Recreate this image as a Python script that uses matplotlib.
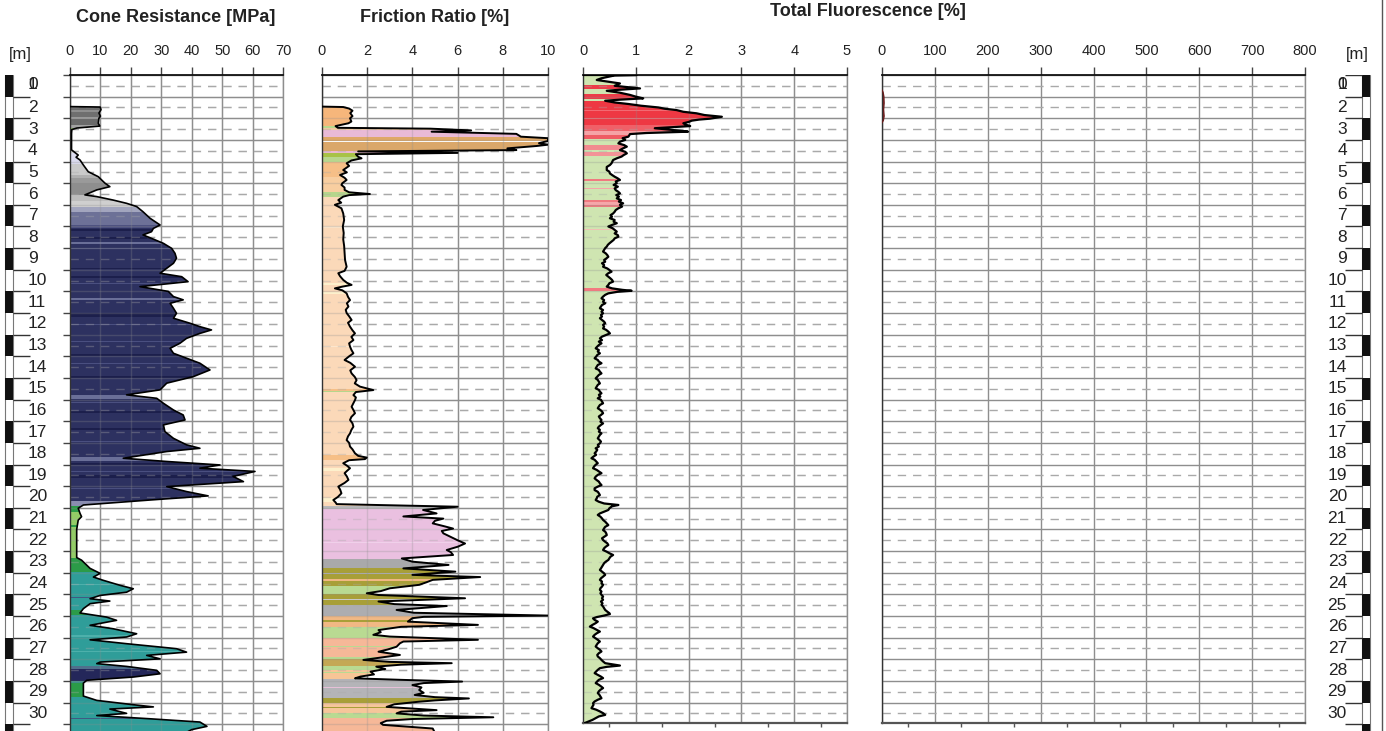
import numpy as np
import matplotlib
matplotlib.use("Agg")
import matplotlib.pyplot as plt
from matplotlib.patches import Polygon, Rectangle
from matplotlib.lines import Line2D
from matplotlib.ticker import MultipleLocator

plt.rcParams['font.family'] = ['Liberation Sans', 'DejaVu Sans']

# ---------------------------------------------------------------- data
# (depth [m], cone resistance qc [MPa])
cone_profile = [
    (1.46, 0.0), (1.48, 9.9), (1.60, 10.2), (1.76, 9.5), (1.90, 10.0), (2.00, 9.5),
    (2.23, 9.3), (2.36, 9.8), (2.45, 2.3), (2.52, 0.6), (2.70, 0.5), (3.00, 0.5),
    (3.46, 0.5), (3.70, 2.7), (3.80, 2.0), (3.93, 3.3), (4.16, 4.4), (4.47, 6.0),
    (4.70, 9.3), (5.00, 11.5), (5.16, 13.1), (5.31, 8.8), (5.54, 4.9), (5.62, 8.8),
    (5.78, 14.2), (5.93, 18.6), (6.08, 21.9), (6.32, 24.0), (6.62, 26.3), (6.93, 29.6),
    (7.09, 27.4), (7.24, 26.8), (7.39, 24.0), (7.55, 26.8), (7.78, 30.7), (8.01, 33.4),
    (8.24, 34.5), (8.47, 35.0), (8.70, 34.0), (8.93, 31.8), (9.16, 29.6), (9.32, 36.7),
    (9.55, 38.8), (9.78, 23.0), (10.00, 32.3), (10.24, 34.0), (10.39, 37.2), (10.55, 32.9),
    (10.78, 34.0), (11.01, 35.0), (11.24, 34.0), (11.47, 39.4), (11.63, 42.7), (11.78, 46.5),
    (11.94, 42.7), (12.17, 38.3), (12.40, 36.1), (12.63, 32.9), (12.86, 34.0), (13.09, 38.3),
    (13.32, 42.7), (13.63, 46.0), (13.94, 40.5), (14.24, 31.8), (14.55, 29.6), (14.78, 18.6),
    (14.94, 28.5), (15.17, 30.7), (15.48, 34.0), (15.71, 37.2), (15.94, 37.8), (16.17, 30.7),
    (16.48, 31.2), (16.79, 34.0), (17.09, 38.3), (17.25, 42.7), (17.40, 31.8), (17.71, 17.5),
    (17.86, 31.8), (18.02, 49.3), (18.17, 42.7), (18.32, 60.8), (18.55, 53.6), (18.79, 57.0),
    (19.02, 31.8), (19.25, 38.3), (19.45, 45.4), (19.64, 26.3), (19.87, 4.4), (20.02, 2.7),
    (20.26, 3.3), (20.41, 3.8), (20.57, 2.7), (21.00, 2.2), (21.60, 2.2), (22.30, 2.2),
    (22.42, 3.8), (22.80, 6.6), (23.03, 9.9), (23.20, 7.7), (23.35, 10.9), (23.58, 16.4),
    (23.74, 20.8), (23.90, 18.6), (24.05, 9.9), (24.20, 6.6), (24.31, 13.1), (24.43, 6.6),
    (24.66, 4.4), (24.86, 3.3), (25.05, 12.0), (25.20, 15.3), (25.43, 6.6), (25.59, 14.2),
    (25.82, 21.9), (25.97, 18.6), (26.10, 6.6), (26.28, 18.6), (26.51, 35.0), (26.67, 38.3),
    (26.82, 25.2), (26.98, 29.6), (27.13, 9.9), (27.20, 8.8), (27.33, 18.6), (27.51, 28.5),
    (27.67, 29.6), (27.82, 20.8), (27.97, 5.5), (28.10, 4.4), (28.70, 4.4), (28.90, 8.8),
    (29.10, 20.8), (29.20, 27.4), (29.30, 13.1), (29.50, 18.6), (29.60, 8.8), (29.75, 26.3),
    (29.90, 42.7), (30.10, 45.0), (30.25, 40.0), (30.40, 38.0),
]

# (depth [m], friction ratio Rf [%])
friction_profile = [
    (1.46, 0.0), (1.48, 0.94), (1.55, 1.20), (1.65, 1.35), (1.76, 1.25), (1.90, 1.35),
    (2.00, 1.24), (2.15, 1.30), (2.23, 1.17), (2.36, 0.60), (2.44, 0.70), (2.48, 4.80),
    (2.56, 6.60), (2.62, 4.85), (2.72, 8.60), (2.85, 8.80), (2.92, 10.0), (3.05, 10.0),
    (3.15, 9.60), (3.22, 10.0), (3.28, 9.50), (3.39, 8.20), (3.47, 8.60), (3.53, 1.60),
    (3.60, 6.00), (3.66, 1.50), (3.78, 1.60), (3.85, 1.75), (3.95, 1.30), (4.08, 1.09),
    (4.20, 1.20), (4.39, 0.94), (4.50, 1.10), (4.62, 0.80), (4.75, 1.00), (4.85, 1.09),
    (5.00, 0.90), (5.08, 0.86), (5.20, 1.00), (5.31, 1.00), (5.42, 1.20), (5.50, 2.12),
    (5.55, 1.20), (5.62, 0.94), (5.78, 0.72), (5.90, 0.85), (6.00, 0.57), (6.16, 0.86),
    (6.40, 0.94), (6.70, 0.98), (7.00, 0.92), (7.30, 0.96), (7.60, 0.94), (7.90, 0.98),
    (8.24, 1.00), (8.55, 1.02), (8.86, 1.09), (9.05, 1.00), (9.16, 0.72), (9.30, 0.80),
    (9.47, 0.94), (9.60, 1.10), (9.70, 1.31), (9.78, 0.90), (9.86, 0.57), (9.95, 0.90),
    (10.09, 1.09), (10.25, 1.15), (10.40, 1.24), (10.55, 1.10), (10.70, 1.17), (10.85, 1.05),
    (11.00, 1.09), (11.15, 1.20), (11.32, 1.31), (11.45, 1.15), (11.63, 1.24), (11.80, 1.35),
    (11.94, 1.46), (12.10, 1.30), (12.25, 1.39), (12.40, 1.20), (12.55, 1.24), (12.70, 1.30),
    (12.86, 1.39), (13.00, 1.20), (13.17, 1.00), (13.30, 1.25), (13.48, 1.46), (13.65, 1.25),
    (13.79, 1.31), (13.95, 1.45), (14.10, 1.53), (14.25, 1.45), (14.40, 1.68), (14.56, 2.27),
    (14.65, 1.50), (14.79, 1.39), (14.90, 1.50), (15.02, 1.46), (15.18, 1.38), (15.33, 1.31),
    (15.50, 1.40), (15.63, 1.46), (15.80, 1.30), (15.94, 1.24), (16.10, 1.35), (16.25, 1.39),
    (16.40, 1.30), (16.56, 1.24), (16.70, 1.15), (16.87, 1.09), (17.00, 1.20), (17.17, 1.24),
    (17.30, 1.35), (17.48, 1.46), (17.60, 1.60), (17.68, 1.98), (17.75, 1.90), (17.80, 1.20),
    (17.94, 0.94), (18.05, 1.10), (18.17, 1.24), (18.30, 1.10), (18.40, 1.00), (18.55, 1.10),
    (18.71, 1.17), (18.85, 1.00), (19.02, 0.72), (19.15, 0.80), (19.33, 0.86), (19.50, 0.70),
    (19.64, 0.50), (19.75, 0.60), (19.83, 0.65), (19.95, 6.00), (20.10, 4.47), (20.26, 5.07),
    (20.40, 3.60), (20.50, 5.37), (20.60, 5.00), (20.72, 4.90), (20.85, 5.40), (20.96, 5.80),
    (21.07, 5.30), (21.18, 5.37), (21.35, 5.70), (21.50, 6.00), (21.65, 6.33), (21.80, 6.00),
    (21.95, 5.52), (22.05, 5.70), (22.18, 5.80), (22.34, 3.53), (22.49, 4.00), (22.64, 5.60),
    (22.80, 3.60), (22.95, 5.90), (23.10, 4.00), (23.20, 7.00), (23.33, 4.90), (23.45, 4.60),
    (23.56, 4.30), (23.72, 3.00), (23.85, 2.60), (23.95, 1.98), (24.03, 2.50), (24.18, 6.33),
    (24.33, 2.50), (24.45, 3.20), (24.54, 5.52), (24.65, 4.20), (24.72, 3.30), (24.85, 4.06),
    (24.98, 10.0), (25.04, 4.50), (25.10, 4.00), (25.26, 3.80), (25.41, 6.90), (25.50, 3.50),
    (25.65, 2.50), (25.75, 2.60), (25.87, 2.27), (25.95, 3.00), (26.10, 6.90), (26.18, 3.60),
    (26.26, 3.45), (26.42, 3.30), (26.55, 2.90), (26.65, 2.50), (26.80, 3.45), (26.92, 2.60),
    (27.03, 1.83), (27.12, 3.00), (27.18, 5.74), (27.25, 3.50), (27.34, 2.40), (27.45, 2.80),
    (27.57, 2.15), (27.70, 2.30), (27.80, 1.70), (27.88, 1.46), (27.95, 3.50), (28.03, 6.20),
    (28.10, 4.50), (28.19, 4.00), (28.30, 4.40), (28.42, 4.30), (28.55, 4.50), (28.65, 4.10),
    (28.75, 5.00), (28.81, 6.50), (28.90, 5.00), (28.96, 4.30), (29.08, 3.20), (29.20, 2.86),
    (29.35, 5.07), (29.42, 3.50), (29.50, 3.30), (29.60, 4.50), (29.68, 7.58), (29.76, 4.00),
    (29.84, 2.86), (29.95, 2.60), (30.03, 2.70), (30.20, 4.90), (30.40, 5.00),
]

# (depth [m], total fluorescence [%])
fluor_profile = [
    (0.00, 1.02), (0.02, 0.60), (0.08, 0.48), (0.15, 0.35), (0.23, 0.26), (0.30, 0.45),
    (0.39, 0.70), (0.50, 0.60), (0.62, 1.08), (0.68, 0.70), (0.73, 0.45), (0.82, 0.70),
    (0.92, 0.89), (1.00, 1.00), (1.08, 1.14), (1.14, 0.70), (1.19, 0.42), (1.27, 0.60),
    (1.34, 0.86), (1.42, 1.10), (1.50, 1.43), (1.56, 1.55), (1.62, 1.77), (1.70, 1.90),
    (1.77, 2.15), (1.85, 2.30), (1.93, 2.63), (1.98, 2.50), (2.02, 2.40), (2.06, 2.20),
    (2.11, 2.06), (2.17, 2.00), (2.23, 1.90), (2.30, 1.95), (2.36, 2.03), (2.41, 1.70),
    (2.46, 1.36), (2.54, 1.70), (2.62, 1.99), (2.68, 1.20), (2.73, 0.89), (2.85, 0.86),
    (2.92, 0.75), (3.00, 0.80), (3.08, 0.70), (3.16, 0.67), (3.24, 0.78), (3.31, 0.83),
    (3.40, 0.75), (3.47, 0.70), (3.55, 0.80), (3.62, 0.83), (3.70, 0.77), (3.77, 0.73),
    (3.85, 0.64), (3.93, 0.57), (4.08, 0.54), (4.16, 0.51), (4.25, 0.45), (4.39, 0.45),
    (4.47, 0.50), (4.55, 0.51), (4.62, 0.55), (4.70, 0.60), (4.78, 0.66), (4.85, 0.70),
    (4.92, 0.62), (5.00, 0.64), (5.08, 0.58), (5.16, 0.66), (5.24, 0.60), (5.32, 0.62),
    (5.40, 0.67), (5.47, 0.70), (5.55, 0.63), (5.62, 0.68), (5.70, 0.64), (5.78, 0.72),
    (5.85, 0.68), (5.93, 0.76), (6.00, 0.70), (6.08, 0.74), (6.16, 0.67), (6.24, 0.62),
    (6.32, 0.60), (6.40, 0.57), (6.48, 0.52), (6.55, 0.55), (6.62, 0.51), (6.70, 0.60),
    (6.78, 0.58), (6.85, 0.64), (6.93, 0.55), (7.00, 0.48), (7.08, 0.56), (7.16, 0.60),
    (7.24, 0.64), (7.32, 0.60), (7.40, 0.66), (7.47, 0.67), (7.55, 0.60), (7.62, 0.58),
    (7.70, 0.54), (7.78, 0.50), (7.85, 0.47), (7.93, 0.45), (8.00, 0.42), (8.08, 0.40),
    (8.16, 0.38), (8.24, 0.43), (8.32, 0.46), (8.40, 0.48), (8.48, 0.44), (8.55, 0.40),
    (8.63, 0.42), (8.70, 0.36), (8.78, 0.40), (8.86, 0.38), (8.94, 0.46), (9.01, 0.50),
    (9.09, 0.54), (9.16, 0.48), (9.24, 0.44), (9.32, 0.48), (9.40, 0.52), (9.47, 0.55),
    (9.55, 0.57), (9.62, 0.50), (9.70, 0.48), (9.78, 0.45), (9.86, 0.55), (9.93, 0.75),
    (9.97, 0.92), (10.02, 0.65), (10.09, 0.48), (10.16, 0.42), (10.24, 0.38), (10.32, 0.35),
    (10.40, 0.40), (10.48, 0.38), (10.55, 0.42), (10.63, 0.36), (10.70, 0.34), (10.78, 0.32),
    (10.86, 0.38), (10.94, 0.35), (11.01, 0.38), (11.09, 0.34), (11.16, 0.36), (11.24, 0.32),
    (11.32, 0.36), (11.40, 0.40), (11.47, 0.42), (11.55, 0.38), (11.63, 0.40), (11.71, 0.38),
    (11.78, 0.44), (11.86, 0.48), (11.94, 0.51), (12.01, 0.44), (12.09, 0.36), (12.17, 0.32),
    (12.25, 0.36), (12.32, 0.30), (12.40, 0.35), (12.48, 0.30), (12.55, 0.27), (12.63, 0.24),
    (12.71, 0.30), (12.78, 0.28), (12.86, 0.32), (12.94, 0.27), (13.01, 0.25), (13.09, 0.22),
    (13.17, 0.28), (13.24, 0.30), (13.32, 0.35), (13.40, 0.28), (13.48, 0.26), (13.56, 0.24),
    (13.63, 0.30), (13.71, 0.32), (13.79, 0.35), (13.86, 0.30), (13.94, 0.27), (14.02, 0.24),
    (14.09, 0.28), (14.17, 0.30), (14.25, 0.32), (14.32, 0.28), (14.40, 0.26), (14.48, 0.24),
    (14.55, 0.30), (14.63, 0.32), (14.71, 0.35), (14.78, 0.30), (14.86, 0.33), (14.94, 0.28),
    (15.01, 0.34), (15.09, 0.36), (15.17, 0.38), (15.25, 0.32), (15.32, 0.30), (15.40, 0.28),
    (15.48, 0.33), (15.55, 0.36), (15.63, 0.38), (15.71, 0.34), (15.78, 0.30), (15.86, 0.32),
    (15.94, 0.35), (16.02, 0.33), (16.10, 0.38), (16.17, 0.34), (16.25, 0.30), (16.32, 0.28),
    (16.40, 0.32), (16.48, 0.30), (16.56, 0.35), (16.63, 0.32), (16.71, 0.30), (16.79, 0.28),
    (16.86, 0.31), (16.94, 0.34), (17.02, 0.32), (17.09, 0.28), (17.17, 0.30), (17.25, 0.24),
    (17.32, 0.27), (17.40, 0.25), (17.48, 0.22), (17.55, 0.25), (17.63, 0.20), (17.71, 0.16),
    (17.78, 0.22), (17.86, 0.25), (17.94, 0.28), (18.01, 0.24), (18.09, 0.21), (18.17, 0.19),
    (18.25, 0.26), (18.32, 0.30), (18.40, 0.35), (18.48, 0.28), (18.56, 0.24), (18.64, 0.22),
    (18.72, 0.26), (18.79, 0.30), (18.87, 0.32), (18.95, 0.35), (19.02, 0.28), (19.10, 0.22),
    (19.18, 0.22), (19.26, 0.28), (19.33, 0.30), (19.41, 0.32), (19.49, 0.27), (19.56, 0.26),
    (19.64, 0.24), (19.72, 0.30), (19.80, 0.40), (19.87, 0.67), (19.93, 0.55), (20.02, 0.50),
    (20.10, 0.48), (20.18, 0.40), (20.26, 0.32), (20.33, 0.28), (20.41, 0.33), (20.49, 0.36),
    (20.56, 0.38), (20.64, 0.42), (20.72, 0.45), (20.80, 0.48), (20.88, 0.42), (20.95, 0.40),
    (21.03, 0.38), (21.10, 0.42), (21.18, 0.44), (21.26, 0.45), (21.34, 0.40), (21.41, 0.36),
    (21.49, 0.38), (21.57, 0.42), (21.64, 0.46), (21.72, 0.48), (21.80, 0.43), (21.87, 0.40),
    (21.95, 0.38), (22.03, 0.45), (22.10, 0.50), (22.18, 0.57), (22.26, 0.52), (22.33, 0.50),
    (22.41, 0.48), (22.49, 0.43), (22.56, 0.40), (22.64, 0.38), (22.72, 0.36), (22.80, 0.34),
    (22.87, 0.32), (22.95, 0.36), (23.03, 0.40), (23.10, 0.42), (23.18, 0.38), (23.26, 0.34),
    (23.33, 0.32), (23.41, 0.36), (23.49, 0.35), (23.56, 0.38), (23.64, 0.36), (23.72, 0.33),
    (23.79, 0.32), (23.87, 0.35), (23.95, 0.33), (24.02, 0.35), (24.10, 0.38), (24.18, 0.36),
    (24.25, 0.38), (24.33, 0.34), (24.41, 0.37), (24.48, 0.35), (24.56, 0.38), (24.64, 0.40),
    (24.72, 0.42), (24.80, 0.46), (24.87, 0.50), (24.91, 0.51), (24.98, 0.40), (25.05, 0.26),
    (25.11, 0.19), (25.18, 0.22), (25.26, 0.28), (25.33, 0.24), (25.41, 0.18), (25.49, 0.13),
    (25.56, 0.20), (25.64, 0.26), (25.72, 0.32), (25.80, 0.26), (25.87, 0.22), (25.95, 0.19),
    (26.03, 0.24), (26.10, 0.28), (26.18, 0.32), (26.26, 0.28), (26.33, 0.26), (26.41, 0.24),
    (26.49, 0.28), (26.56, 0.32), (26.64, 0.35), (26.72, 0.30), (26.80, 0.27), (26.87, 0.28),
    (26.95, 0.32), (27.03, 0.35), (27.10, 0.38), (27.18, 0.42), (27.25, 0.60), (27.29, 0.70),
    (27.35, 0.45), (27.41, 0.32), (27.49, 0.28), (27.56, 0.25), (27.64, 0.22), (27.72, 0.28),
    (27.80, 0.34), (27.87, 0.38), (27.95, 0.30), (28.02, 0.27), (28.10, 0.24), (28.18, 0.30),
    (28.25, 0.34), (28.33, 0.38), (28.41, 0.33), (28.48, 0.30), (28.56, 0.28), (28.64, 0.31),
    (28.72, 0.33), (28.80, 0.35), (28.87, 0.28), (28.95, 0.22), (29.03, 0.19), (29.10, 0.20),
    (29.18, 0.18), (29.26, 0.16), (29.33, 0.25), (29.41, 0.32), (29.49, 0.38), (29.57, 0.42),
    (29.64, 0.30), (29.72, 0.24), (29.80, 0.18), (29.88, 0.10), (29.94, 0.04),
]

# (depth [m], fluorescence on the 0-800 scale)
fluor_wide_profile = [
    (0.70, 0.0), (0.80, 2.0), (1.00, 3.5), (1.30, 4.0), (1.60, 3.0), (1.90, 4.0),
    (2.10, 2.5), (2.20, 0.0),
]

# soil behaviour colour bands (top, bottom, colour)
cone_layers = [
    (1.40, 1.60, '#6c6c6c'), (1.60, 1.72, '#8e8e8e'), (1.72, 1.95, '#6f6f6f'),
    (1.95, 2.05, '#9a9a9a'), (2.05, 2.30, '#6a6a6a'), (2.30, 2.45, '#a2a2a2'),
    (2.45, 2.58, '#9fd36a'), (2.58, 3.60, '#d5d5d5'), (3.60, 4.10, '#dcdcef'),
    (4.10, 4.60, '#cacaca'), (4.60, 4.75, '#b0b0b0'), (4.75, 5.00, '#9a9a9a'),
    (5.00, 5.55, '#8e8e8e'), (5.55, 5.80, '#bdbdbd'), (5.80, 6.12, '#cfcfcf'),
    (6.12, 6.35, '#a2a5be'), (6.35, 6.95, '#6d7197'), (6.95, 7.05, '#4b4f80'),
    (7.05, 19.70, '#2d3160'), (19.70, 19.92, '#8a8db0'), (19.92, 20.20, '#2b9b48'),
    (20.20, 20.80, '#93cc67'), (20.80, 20.90, '#2b9b48'), (20.90, 22.30, '#93cc67'),
    (22.30, 22.95, '#2b9b48'), (22.95, 27.30, '#2f9d99'), (27.30, 27.45, '#4f6f8c'),
    (27.45, 28.00, '#24275a'), (28.00, 28.10, '#3a8f88'), (28.10, 28.75, '#2b9b48'),
    (28.75, 30.40, '#2f9d99'),
]
cone_stripes = [
    (7.12, 7.20, '#1c1f4c'), (7.50, 7.58, '#1c1f4c'), (7.72, 7.80, '#6a6f98'),
    (8.00, 8.04, '#4a4f80'), (8.90, 8.98, '#1c1f4c'), (9.30, 9.36, '#1c1f4c'),
    (9.60, 9.64, '#4a4f80'), (10.30, 10.38, '#6a6f98'), (11.02, 11.18, '#1c1f4c'),
    (11.50, 11.54, '#4a4f80'), (12.30, 12.34, '#4a4f80'), (12.90, 13.00, '#1c1f4c'),
    (13.30, 13.34, '#4a4f80'), (13.90, 13.98, '#1c1f4c'), (14.78, 14.95, '#6a6f98'),
    (15.10, 15.14, '#4a4f80'), (15.52, 15.60, '#1c1f4c'), (16.30, 16.42, '#1c1f4c'),
    (16.90, 16.94, '#4a4f80'), (17.66, 17.84, '#6a6f98'), (17.95, 18.02, '#1c1f4c'),
    (18.30, 18.34, '#4a4f80'), (18.50, 18.60, '#1c1f4c'), (19.10, 19.14, '#4a4f80'),
    (23.50, 23.55, '#4db0ab'), (24.10, 24.18, '#3f5a82'), (24.70, 24.95, '#2b9b48'),
    (25.90, 25.95, '#4db0ab'), (26.60, 26.65, '#4db0ab'), (29.70, 29.75, '#3f5a82'),
]

friction_layers = [
    (1.40, 2.35, '#f6b67b'), (2.35, 2.45, '#b9d98c'), (2.45, 2.55, '#f2c9a3'),
    (2.55, 2.86, '#e9bad6'), (2.86, 2.95, '#dfa867'), (2.95, 2.98, '#ffffff'),
    (2.98, 3.05, '#dfa867'), (3.05, 3.08, '#ffffff'), (3.08, 3.50, '#daa76a'),
    (3.50, 3.60, '#ebb9d1'), (3.60, 3.80, '#a8c247'), (3.80, 4.00, '#b8d78e'),
    (4.00, 4.70, '#f6bf87'), (4.70, 5.40, '#f8cea0'), (5.40, 5.62, '#b6d68c'),
    (5.62, 19.90, '#fbd9b9'), (19.90, 20.05, '#b9b9bb'), (20.05, 22.35, '#eac0e0'),
    (22.35, 22.80, '#a9a9ab'), (22.80, 23.60, '#a89f38'), (23.60, 24.00, '#b9da92'),
    (24.00, 24.50, '#a89f38'), (24.50, 25.00, '#adadb0'), (25.00, 25.50, '#f1b884'),
    (25.50, 26.00, '#b9da92'), (26.00, 26.90, '#f6b898'), (26.90, 27.00, '#b9da92'),
    (27.00, 27.30, '#c4a855'), (27.30, 27.50, '#b9da92'), (27.50, 27.90, '#f7c596'),
    (27.90, 28.80, '#b4b4b8'), (28.80, 29.00, '#a89f38'), (29.00, 29.50, '#f6c69a'),
    (29.50, 29.70, '#b9da92'), (29.70, 30.40, '#f6b898'),
]
friction_stripes = [
    (7.00, 7.05, '#fde6cc'), (9.62, 9.70, '#fdf0cc'), (10.02, 10.10, '#fdf0cc'),
    (12.50, 12.55, '#fde6cc'), (14.50, 14.58, '#f6bf87'), (14.58, 14.64, '#b6d68c'),
    (17.58, 17.80, '#f6bf87'), (18.15, 18.30, '#fdf0cc'), (19.55, 19.75, '#fdf0cc'),
    (21.00, 21.04, '#f0d0ea'), (21.60, 21.64, '#f0d0ea'), (23.00, 23.05, '#b4b4b8'),
    (23.30, 23.36, '#f1b884'), (24.20, 24.25, '#c9c9c9'), (25.20, 25.28, '#a89f38'),
    (26.40, 26.45, '#b9da92'), (27.60, 27.65, '#b9da92'), (28.30, 28.35, '#e6c0d8'),
    (29.20, 29.26, '#a89f38'),
]

fluor_layers = [
    (0.00, 0.45, '#cfe5b1'), (0.45, 0.65, '#ec3c48'), (0.65, 0.88, '#cfe5b1'),
    (0.88, 1.10, '#ec3c48'), (1.10, 1.20, '#cfe5b1'), (1.20, 1.60, '#ee3843'),
    (1.60, 1.65, '#f26a72'), (1.65, 2.00, '#ee3843'), (2.00, 2.05, '#f26a72'),
    (2.05, 2.30, '#ee3843'), (2.30, 2.60, '#f06068'), (2.60, 2.75, '#f5a3a6'),
    (2.75, 2.95, '#ef5c64'), (2.95, 3.25, '#cfe5b1'), (3.25, 3.45, '#f28a8f'),
    (3.45, 3.55, '#cfe5b1'), (3.55, 3.75, '#f39397'), (3.75, 4.80, '#cfe5b1'),
    (4.80, 4.90, '#f07a80'), (4.90, 5.20, '#cfe5b1'), (5.20, 5.28, '#f5a7aa'),
    (5.28, 5.78, '#cfe5b1'), (5.78, 5.86, '#f07a80'), (5.86, 6.00, '#f5a7aa'),
    (6.00, 6.10, '#f07a80'), (6.10, 7.10, '#cfe5b1'), (7.10, 7.18, '#f0c0b4'),
    (7.18, 9.85, '#cfe5b1'), (9.85, 10.00, '#f27a80'), (10.00, 30.40, '#cfe5b1'),
]
fluor_wide_layers = [(0.00, 30.40, '#8a2a2a')]

# ---------------------------------------------------------------- layout
W, H = 1386, 731
TOP = 75            # pixel row of depth 0
PX_PER_M = 21.64    # vertical scale

fig = plt.figure(figsize=(W / 100, H / 100), dpi=100)


def px_axes(x0, x1, y0, y1):
    return fig.add_axes([x0 / W, 1 - y1 / H, (x1 - x0) / W, (y1 - y0) / H])


def depth_at(ypx):
    return (ypx - TOP) / PX_PER_M


GRID = '#8e8e8e'
DASH = '#a9a9a9'
DASHES = (0, (6, 5))


def setup_panel(ax, xmax, xstep, ybot_px, closed_bottom=False, left_ticks=False):
    ax.set_xlim(0, xmax)
    ax.set_ylim(depth_at(ybot_px), 0)
    ax.set_axisbelow(True)
    ax.xaxis.set_major_locator(MultipleLocator(xstep))
    ax.yaxis.set_major_locator(MultipleLocator(1))
    ax.yaxis.set_minor_locator(MultipleLocator(0.5))
    ax.grid(which='major', axis='both', color=GRID, lw=1.0)
    ax.grid(which='minor', axis='y', color=DASH, lw=1.0, ls=DASHES)
    ax.tick_params(axis='x', which='major', top=True, bottom=False, labeltop=True,
                   labelbottom=False, direction='out', length=6, width=1.0,
                   color='#444444', pad=6, labelsize=10.5, labelcolor='#222222')
    ax.tick_params(axis='y', which='both', left=False, right=False, labelleft=False)
    if left_ticks:
        ax.tick_params(axis='y', which='major', left=True, direction='out',
                       length=5, width=1.0, color='#444444')
    ax.spines['top'].set_color('#111111')
    ax.spines['top'].set_linewidth(1.3)
    ax.spines['left'].set_color('#333333')
    ax.spines['left'].set_linewidth(1.0)
    ax.spines['right'].set_color(GRID)
    ax.spines['right'].set_linewidth(1.0)
    if closed_bottom:
        ax.spines['bottom'].set_color('#555555')
        ax.spines['bottom'].set_linewidth(1.6)
        ax.xaxis.set_minor_locator(MultipleLocator(xstep / 2))
        ax.tick_params(axis='x', which='minor', bottom=True, top=False,
                       direction='out', length=3, width=1.0, color='#555555')
    else:
        ax.spines['bottom'].set_visible(False)


def overlay_grid(ax, xmax, xstep):
    # faint copy of the grid so it shows through the filled profiles
    y0, y1 = ax.get_ylim()[1], ax.get_ylim()[0]
    xs = np.arange(xstep, xmax, xstep)
    ax.vlines(xs, y0, y1, colors=GRID, lw=1.0, alpha=0.28, zorder=2)
    ax.hlines(np.arange(1, 31), 0, xmax, colors=GRID, lw=1.0, alpha=0.28, zorder=2)
    ax.hlines(np.arange(0.5, 31, 1.0), 0, xmax, colors=DASH, lw=1.0, alpha=0.35,
              linestyles=[DASHES], zorder=2)


def draw_profile(ax, profile, layers, stripes=(), line_color='black', lw=1.3):
    d, v = np.array(profile).T
    verts = np.column_stack([np.r_[0.0, v, 0.0], np.r_[d[0], d, d[-1]]])
    clip = Polygon(verts, closed=True, facecolor='none', edgecolor='none')
    ax.add_patch(clip)
    xmax = ax.get_xlim()[1]
    for top, bot, col in list(layers) + list(stripes):
        band = Rectangle((0, top), xmax, bot - top, facecolor=col, edgecolor='none',
                         antialiased=False, zorder=1)
        ax.add_patch(band)
        band.set_clip_path(clip)
    ax.plot(np.r_[0.0, v], np.r_[d[0], d], color=line_color, lw=lw, zorder=4,
            solid_joinstyle='round')


# cone resistance
ax_qc = px_axes(70, 283, TOP, H)
setup_panel(ax_qc, 70, 10, H, left_ticks=True)
draw_profile(ax_qc, cone_profile, cone_layers, cone_stripes, lw=1.2)
overlay_grid(ax_qc, 70, 10)

# friction ratio
ax_rf = px_axes(322, 548, TOP, H)
setup_panel(ax_rf, 10, 2, H)
draw_profile(ax_rf, friction_profile, friction_layers, friction_stripes, lw=1.4)
overlay_grid(ax_rf, 10, 2)

# total fluorescence, two scales
ax_tf = px_axes(583, 847, TOP, 723)
setup_panel(ax_tf, 5, 1, 723, closed_bottom=True)
draw_profile(ax_tf, fluor_profile, fluor_layers, lw=1.6)
overlay_grid(ax_tf, 5, 1)

ax_tf2 = px_axes(882, 1305, TOP, 723)
setup_panel(ax_tf2, 800, 100, 723, closed_bottom=True)
draw_profile(ax_tf2, fluor_wide_profile, fluor_wide_layers, line_color='#6a1c1c', lw=1.0)

# titles
title_kw = dict(ha='center', va='center', fontsize=13, fontweight='bold', color='#222222')
fig.text(176 / W, 1 - 17 / H, 'Cone Resistance [MPa]', **title_kw)
fig.text(435 / W, 1 - 17 / H, 'Friction Ratio [%]', **title_kw)
fig.text(868 / W, 1 - 12 / H, 'Total Fluorescence [%]', **title_kw)

# depth scales on both sides
label_kw = dict(va='center', fontsize=12.5, color='#222222')
depths = np.arange(0, 31)

sc_l = px_axes(0, 70, TOP, H)
sc_l.set_xlim(0, 70)
sc_l.set_ylim(depth_at(H), 0)
sc_l.axis('off')
sc_l.add_patch(Rectangle((5, 0), 8, 31, facecolor='white', edgecolor='#777777', lw=0.8))
for k in depths[::2]:
    sc_l.add_patch(Rectangle((5, k), 8, 1, facecolor='#111111', edgecolor='none'))
sc_l.hlines(depths[1:], 13, 30, colors='#333333', lw=1.0)
for k in depths:
    ypos = 0.45 if k < 2 else k - 0.5
    sc_l.text(28, ypos, str(k), ha='left', **label_kw)
sc_l.text(20, depth_at(54), '[m]', ha='center', va='center', fontsize=12, color='#222222',
          clip_on=False)

sc_r = px_axes(1305, 1386, TOP, H)
sc_r.set_xlim(1305, 1386)
sc_r.set_ylim(depth_at(H), 0)
sc_r.axis('off')
sc_r.add_patch(Rectangle((1362, 0), 8, 31, facecolor='white', edgecolor='#777777', lw=0.8))
for k in depths[::2]:
    sc_r.add_patch(Rectangle((1362, k), 8, 1, facecolor='#111111', edgecolor='none'))
sc_r.hlines(depths, 1345, 1362, colors='#333333', lw=1.0)
for k in depths:
    ypos = 0.45 if k < 2 else k - 0.5
    sc_r.text(1347, ypos, str(k), ha='right', **label_kw)
sc_r.text(1357, depth_at(54), '[m]', ha='center', va='center', fontsize=12, color='#222222',
          clip_on=False)

# right-hand frame line
fig.add_artist(Line2D([1382 / W, 1382 / W], [0, 1], color='#555555', lw=1.0))

fig.savefig('out.png', dpi=100)
